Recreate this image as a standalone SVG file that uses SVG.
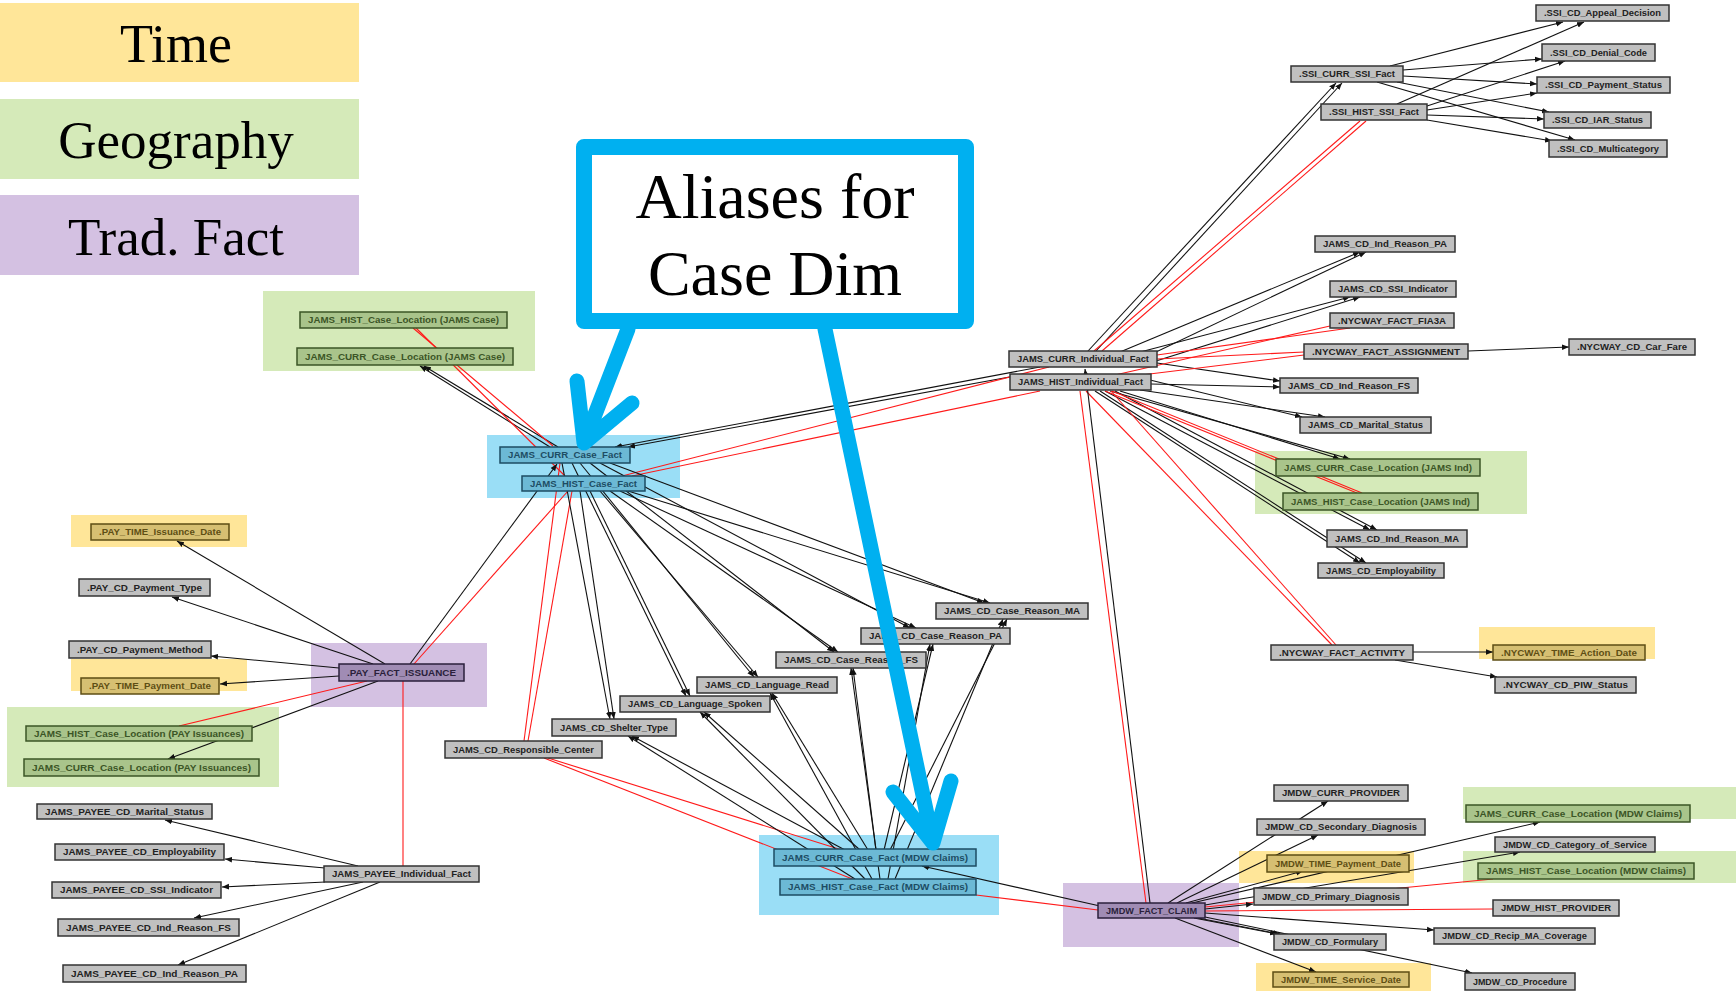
<svg xmlns="http://www.w3.org/2000/svg" width="1736" height="991" viewBox="0 0 1736 991">
<style>
  .legend { font-family: "Liberation Serif", "Times New Roman", serif; fill: #000; text-anchor: middle; }
  .hl-time { fill: #FFE699; }
  .hl-geo { fill: #D5EAB9; }
  .hl-fact { fill: #D4C1E2; }
  .hl-case { fill: #9ADEF6; }
  .nd rect { fill: #C0C0C0; stroke: #333; stroke-width: 1.5; }
  .nd text { font-family: "Liberation Sans", Arial, sans-serif; font-size: 9px; font-weight: bold; fill: #222; text-anchor: middle; }
  .nd.t rect { fill: #D6BF72; stroke: #5E4E14; }
  .nd.t text { fill: #5E4E14; }
  .nd.g rect { fill: #A9C48B; stroke: #3B5526; }
  .nd.g text { fill: #3B5526; }
  .nd.b rect { fill: #6CB9D5; stroke: #1D4C63; }
  .nd.b text { fill: #1D4C63; }
  .nd.p rect { fill: #A08CB4; stroke: #2A1F3B; }
  .nd.p text { fill: #2A1F3B; }
  .e { stroke: #111; stroke-width: 1.1; fill: none; marker-end: url(#ah); }
  .r { stroke: #FF1A1A; stroke-width: 1.1; fill: none; }
  .callout { fill: #FFF; stroke: #00B0F0; stroke-width: 16; stroke-linejoin: round; }
  .callout-text { font-family: "Liberation Serif", "Times New Roman", serif; font-size: 64px; fill: #000; text-anchor: middle; }
  .pointer { stroke: #00B0F0; stroke-width: 15; fill: none; stroke-linecap: round; stroke-linejoin: round; }
</style>
<defs>
  <marker id="ah" viewBox="0 0 10 10" refX="10" refY="5" markerWidth="7" markerHeight="7" orient="auto" markerUnits="userSpaceOnUse">
    <path d="M0,1 L10,5 L0,9 z" fill="#111"/>
  </marker>
</defs>

<rect width="1736" height="991" fill="#FFFFFF"/>

<!-- legend -->
<g id="legend">
  <g id="legend-time"><rect class="hl-time" x="0" y="3" width="359" height="79"/><text class="legend" x="176" y="62" font-size="54">Time</text></g>
  <g id="legend-geography"><rect class="hl-geo" x="0" y="99" width="359" height="80"/><text class="legend" x="176" y="158" font-size="53">Geography</text></g>
  <g id="legend-fact"><rect class="hl-fact" x="0" y="195" width="359" height="80"/><text class="legend" x="176" y="255" font-size="53">Trad. Fact</text></g>
</g>

<!-- category highlights -->
<g id="highlights">
  <rect class="hl-geo" x="263" y="291" width="272" height="80"/>
  <rect class="hl-case" x="487" y="435" width="193" height="63"/>
  <rect class="hl-time" x="71" y="515" width="176" height="32"/>
  <rect class="hl-time" x="71" y="659" width="176" height="32"/>
  <rect class="hl-fact" x="311" y="643" width="176" height="64"/>
  <rect class="hl-geo" x="7" y="707" width="272" height="80"/>
  <rect class="hl-geo" x="1255" y="451" width="272" height="63"/>
  <rect class="hl-time" x="1479" y="627" width="176" height="32"/>
  <rect class="hl-case" x="759" y="835" width="240" height="80"/>
  <rect class="hl-fact" x="1063" y="883" width="176" height="64"/>
  <rect class="hl-time" x="1239" y="851" width="175" height="32"/>
  <rect class="hl-geo" x="1463" y="787" width="273" height="32"/>
  <rect class="hl-geo" x="1463" y="851" width="273" height="32"/>
  <rect class="hl-time" x="1256" y="963" width="175" height="28"/>
</g>

<!-- connectors -->
<g id="connectors">
  <!-- SSI facts to codes -->
  <line class="e" x1="1390" y1="66" x2="1563" y2="22"/>
  <line class="e" x1="1403" y1="70" x2="1542" y2="59"/>
  <line class="e" x1="1403" y1="76" x2="1537" y2="84"/>
  <line class="e" x1="1397" y1="82" x2="1549" y2="112"/>
  <line class="e" x1="1377" y1="82" x2="1575" y2="140"/>
  <line class="e" x1="1397" y1="104" x2="1584" y2="22"/>
  <line class="e" x1="1427" y1="106" x2="1565" y2="61"/>
  <line class="e" x1="1427" y1="110" x2="1537" y2="93"/>
  <line class="e" x1="1427" y1="115" x2="1544" y2="119"/>
  <line class="e" x1="1427" y1="120" x2="1552" y2="141"/>
  <!-- individual facts to SSI facts -->
  <line class="e" x1="1088" y1="351" x2="1336" y2="83"/>
  <line class="e" x1="1096" y1="351" x2="1342" y2="83"/>
  <line class="r" x1="1094" y1="351" x2="1360" y2="121"/>
  <line class="r" x1="1102" y1="351" x2="1366" y2="121"/>
  <!-- individual facts to codes -->
  <line class="e" x1="1120" y1="352" x2="1360" y2="252"/>
  <line class="e" x1="1135" y1="362" x2="1366" y2="252"/>
  <line class="e" x1="1125" y1="356" x2="1350" y2="297"/>
  <line class="e" x1="1140" y1="366" x2="1360" y2="297"/>
  <line class="e" x1="1157" y1="363" x2="1280" y2="381"/>
  <line class="e" x1="1151" y1="384" x2="1280" y2="387"/>
  <line class="e" x1="1150" y1="380" x2="1302" y2="417"/>
  <line class="e" x1="1140" y1="390" x2="1325" y2="417"/>
  <line class="e" x1="1120" y1="391" x2="1340" y2="459"/>
  <line class="e" x1="1110" y1="391" x2="1350" y2="459"/>
  <line class="e" x1="1105" y1="391" x2="1370" y2="530"/>
  <line class="e" x1="1115" y1="391" x2="1377" y2="530"/>
  <line class="e" x1="1095" y1="391" x2="1360" y2="563"/>
  <line class="e" x1="1100" y1="391" x2="1366" y2="563"/>
  <line class="r" x1="1157" y1="355" x2="1350" y2="328"/>
  <line class="r" x1="1115" y1="375" x2="1330" y2="326"/>
  <line class="r" x1="1157" y1="359" x2="1304" y2="352"/>
  <line class="r" x1="1117" y1="378" x2="1304" y2="355"/>
  <line class="r" x1="1105" y1="391" x2="1357" y2="493"/>
  <line class="r" x1="1112" y1="391" x2="1362" y2="493"/>
  <line class="r" x1="1086" y1="391" x2="1332" y2="645"/>
  <line class="r" x1="1111" y1="391" x2="1336" y2="645"/>
  <!-- claim fact to individual facts -->
  <line class="e" x1="1150" y1="903" x2="1085" y2="369"/>
  <line class="r" x1="1146" y1="903" x2="1080" y2="391"/>
  <!-- individual facts to case facts -->
  <line class="e" x1="1040" y1="367" x2="615" y2="447"/>
  <line class="e" x1="1015" y1="376" x2="628" y2="447"/>
  <line class="r" x1="1049" y1="367" x2="622" y2="476"/>
  <line class="r" x1="1040" y1="391" x2="632" y2="476"/>
  <!-- NYCWAY facts -->
  <line class="e" x1="1468" y1="351" x2="1569" y2="347"/>
  <line class="e" x1="1413" y1="652" x2="1493" y2="652"/>
  <line class="e" x1="1395" y1="660" x2="1497" y2="677"/>
  <!-- case facts to case locations -->
  <line class="e" x1="550" y1="447" x2="420" y2="366"/>
  <line class="e" x1="558" y1="447" x2="424" y2="366"/>
  <line class="r" x1="413" y1="328" x2="553" y2="446"/>
  <line class="r" x1="416" y1="328" x2="565" y2="476"/>
  <!-- issuance fact to case facts -->
  <line class="e" x1="410" y1="664" x2="557" y2="464"/>
  <line class="r" x1="414" y1="664" x2="568" y2="491"/>
  <!-- responsible center -->
  <line class="r" x1="524" y1="741" x2="560" y2="463"/>
  <line class="r" x1="528" y1="741" x2="572" y2="491"/>
  <line class="r" x1="548" y1="758" x2="842" y2="850"/>
  <line class="r" x1="544" y1="758" x2="855" y2="880"/>
  <!-- case facts to case codes -->
  <line class="e" x1="610" y1="463" x2="984" y2="603"/>
  <line class="e" x1="628" y1="491" x2="990" y2="603"/>
  <line class="e" x1="600" y1="463" x2="910" y2="628"/>
  <line class="e" x1="620" y1="491" x2="916" y2="628"/>
  <line class="e" x1="590" y1="463" x2="834" y2="652"/>
  <line class="e" x1="610" y1="491" x2="838" y2="652"/>
  <line class="e" x1="580" y1="463" x2="754" y2="677"/>
  <line class="e" x1="600" y1="491" x2="758" y2="677"/>
  <line class="e" x1="572" y1="463" x2="686" y2="696"/>
  <line class="e" x1="590" y1="491" x2="690" y2="696"/>
  <line class="e" x1="562" y1="463" x2="610" y2="719"/>
  <line class="e" x1="580" y1="491" x2="614" y2="719"/>
  <!-- claim case facts to case codes -->
  <line class="e" x1="845" y1="850" x2="632" y2="736"/>
  <line class="e" x1="855" y1="879" x2="628" y2="736"/>
  <line class="e" x1="860" y1="850" x2="704" y2="712"/>
  <line class="e" x1="865" y1="879" x2="700" y2="712"/>
  <line class="e" x1="868" y1="850" x2="772" y2="693"/>
  <line class="e" x1="872" y1="879" x2="770" y2="693"/>
  <line class="e" x1="876" y1="850" x2="853" y2="668"/>
  <line class="e" x1="880" y1="879" x2="851" y2="668"/>
  <line class="e" x1="884" y1="850" x2="933" y2="644"/>
  <line class="e" x1="888" y1="879" x2="930" y2="644"/>
  <line class="e" x1="890" y1="850" x2="1007" y2="619"/>
  <line class="e" x1="895" y1="879" x2="1003" y2="619"/>
  <!-- claim fact -->
  <line class="e" x1="1100" y1="906" x2="922" y2="866"/>
  <line class="r" x1="1098" y1="910" x2="976" y2="895"/>
  <line class="e" x1="1168" y1="903" x2="1328" y2="801"/>
  <line class="e" x1="1177" y1="903" x2="1318" y2="835"/>
  <line class="e" x1="1186" y1="903" x2="1303" y2="871"/>
  <line class="e" x1="1192" y1="903" x2="1540" y2="822"/>
  <line class="e" x1="1205" y1="905" x2="1520" y2="852"/>
  <line class="r" x1="1205" y1="907" x2="1493" y2="879"/>
  <line class="e" x1="1205" y1="909" x2="1253" y2="904"/>
  <line class="r" x1="1205" y1="911" x2="1493" y2="909"/>
  <line class="e" x1="1205" y1="913" x2="1434" y2="930"/>
  <line class="e" x1="1198" y1="918" x2="1280" y2="934"/>
  <line class="e" x1="1194" y1="918" x2="1277" y2="934"/>
  <line class="e" x1="1205" y1="917" x2="1472" y2="973"/>
  <line class="e" x1="1175" y1="918" x2="1316" y2="972"/>
  <!-- issuance fact -->
  <line class="e" x1="385" y1="664" x2="177" y2="541"/>
  <line class="e" x1="373" y1="664" x2="172" y2="597"/>
  <line class="e" x1="339" y1="668" x2="211" y2="656"/>
  <line class="e" x1="339" y1="676" x2="220" y2="684"/>
  <line class="e" x1="378" y1="681" x2="168" y2="759"/>
  <line class="r" x1="367" y1="681" x2="179" y2="726"/>
  <line class="r" x1="403" y1="681" x2="403" y2="866"/>
  <!-- payee fact -->
  <line class="e" x1="358" y1="866" x2="165" y2="820"/>
  <line class="e" x1="325" y1="868" x2="225" y2="859"/>
  <line class="e" x1="325" y1="882" x2="222" y2="887"/>
  <line class="e" x1="363" y1="882" x2="194" y2="918"/>
  <line class="e" x1="380" y1="882" x2="178" y2="965"/>
</g>

<!-- nodes -->
<g id="nodes">
  <g id="ssi-cd-appeal-decision" class="nd"><rect x="1536" y="5" width="133" height="16"/><text x="1602.5" y="16.3" textLength="117" lengthAdjust="spacingAndGlyphs">.SSI_CD_Appeal_Decision</text></g>
  <g id="ssi-cd-denial-code" class="nd"><rect x="1542" y="44" width="113" height="17"/><text x="1598.5" y="55.8" textLength="97" lengthAdjust="spacingAndGlyphs">.SSI_CD_Denial_Code</text></g>
  <g id="ssi-cd-payment-status" class="nd"><rect x="1537" y="77" width="133" height="16"/><text x="1603.5" y="88.3" textLength="117" lengthAdjust="spacingAndGlyphs">.SSI_CD_Payment_Status</text></g>
  <g id="ssi-cd-iar-status" class="nd"><rect x="1544" y="112" width="107" height="16"/><text x="1597.5" y="123.3" textLength="91" lengthAdjust="spacingAndGlyphs">.SSI_CD_IAR_Status</text></g>
  <g id="ssi-cd-multicategory" class="nd"><rect x="1549" y="140" width="118" height="17"/><text x="1608" y="151.8" textLength="102" lengthAdjust="spacingAndGlyphs">.SSI_CD_Multicategory</text></g>
  <g id="ssi-curr-ssi-fact" class="nd"><rect x="1291" y="66" width="112" height="16"/><text x="1347" y="77.3" textLength="96" lengthAdjust="spacingAndGlyphs">.SSI_CURR_SSI_Fact</text></g>
  <g id="ssi-hist-ssi-fact" class="nd"><rect x="1321" y="104" width="106" height="16"/><text x="1374" y="115.3" textLength="90" lengthAdjust="spacingAndGlyphs">.SSI_HIST_SSI_Fact</text></g>

  <g id="jams-cd-ind-reason-pa" class="nd"><rect x="1315" y="236" width="140" height="16"/><text x="1385" y="247.3" textLength="124" lengthAdjust="spacingAndGlyphs">JAMS_CD_Ind_Reason_PA</text></g>
  <g id="jams-cd-ssi-indicator" class="nd"><rect x="1330" y="281" width="126" height="16"/><text x="1393" y="292.3" textLength="110" lengthAdjust="spacingAndGlyphs">JAMS_CD_SSI_Indicator</text></g>
  <g id="nycway-fact-fia3a" class="nd"><rect x="1330" y="313" width="124" height="15"/><text x="1392" y="323.8" textLength="108" lengthAdjust="spacingAndGlyphs">.NYCWAY_FACT_FIA3A</text></g>
  <g id="nycway-fact-assignment" class="nd"><rect x="1304" y="344" width="164" height="15"/><text x="1386" y="354.8" textLength="148" lengthAdjust="spacingAndGlyphs">.NYCWAY_FACT_ASSIGNMENT</text></g>
  <g id="nycway-cd-car-fare" class="nd"><rect x="1569" y="339" width="126" height="16"/><text x="1632" y="350.3" textLength="110" lengthAdjust="spacingAndGlyphs">.NYCWAY_CD_Car_Fare</text></g>
  <g id="jams-cd-ind-reason-fs" class="nd"><rect x="1280" y="378" width="138" height="15"/><text x="1349" y="388.8" textLength="122" lengthAdjust="spacingAndGlyphs">JAMS_CD_Ind_Reason_FS</text></g>
  <g id="jams-cd-marital-status" class="nd"><rect x="1300" y="417" width="131" height="16"/><text x="1365.5" y="428.3" textLength="115" lengthAdjust="spacingAndGlyphs">JAMS_CD_Marital_Status</text></g>
  <g id="jams-curr-individual-fact" class="nd"><rect x="1009" y="351" width="148" height="16"/><text x="1083" y="362.3" textLength="132" lengthAdjust="spacingAndGlyphs">JAMS_CURR_Individual_Fact</text></g>
  <g id="jams-hist-individual-fact" class="nd"><rect x="1010" y="374" width="141" height="16"/><text x="1080.5" y="385.3" textLength="125" lengthAdjust="spacingAndGlyphs">JAMS_HIST_Individual_Fact</text></g>
  <g id="jams-curr-case-location-ind" class="nd g"><rect x="1276" y="459" width="204" height="17"/><text x="1378" y="470.8" textLength="188" lengthAdjust="spacingAndGlyphs">JAMS_CURR_Case_Location (JAMS Ind)</text></g>
  <g id="jams-hist-case-location-ind" class="nd g"><rect x="1283" y="493" width="195" height="17"/><text x="1380.5" y="504.8" textLength="179" lengthAdjust="spacingAndGlyphs">JAMS_HIST_Case_Location (JAMS Ind)</text></g>
  <g id="jams-cd-ind-reason-ma" class="nd"><rect x="1327" y="530" width="140" height="17"/><text x="1397" y="541.8" textLength="124" lengthAdjust="spacingAndGlyphs">JAMS_CD_Ind_Reason_MA</text></g>
  <g id="jams-cd-employability" class="nd"><rect x="1318" y="563" width="126" height="15"/><text x="1381" y="573.8" textLength="110" lengthAdjust="spacingAndGlyphs">JAMS_CD_Employability</text></g>
  <g id="nycway-fact-activity" class="nd"><rect x="1271" y="645" width="142" height="15"/><text x="1342" y="655.8" textLength="126" lengthAdjust="spacingAndGlyphs">.NYCWAY_FACT_ACTIVITY</text></g>
  <g id="nycway-time-action-date" class="nd t"><rect x="1493" y="645" width="152" height="15"/><text x="1569" y="655.8" textLength="136" lengthAdjust="spacingAndGlyphs">.NYCWAY_TIME_Action_Date</text></g>
  <g id="nycway-cd-piw-status" class="nd"><rect x="1495" y="677" width="141" height="16"/><text x="1565.5" y="688.3" textLength="125" lengthAdjust="spacingAndGlyphs">.NYCWAY_CD_PIW_Status</text></g>

  <g id="mdw-curr-provider" class="nd"><rect x="1274" y="785" width="134" height="16"/><text x="1341" y="796.3" textLength="118" lengthAdjust="spacingAndGlyphs">JMDW_CURR_PROVIDER</text></g>
  <g id="mdw-cd-secondary-diagnosis" class="nd"><rect x="1257" y="819" width="168" height="16"/><text x="1341" y="830.3" textLength="152" lengthAdjust="spacingAndGlyphs">JMDW_CD_Secondary_Diagnosis</text></g>
  <g id="jams-curr-case-location-mdw" class="nd g"><rect x="1466" y="805" width="224" height="17"/><text x="1578" y="816.8" textLength="208" lengthAdjust="spacingAndGlyphs">JAMS_CURR_Case_Location (MDW Claims)</text></g>
  <g id="mdw-cd-category-of-service" class="nd"><rect x="1495" y="837" width="160" height="15"/><text x="1575" y="847.8" textLength="144" lengthAdjust="spacingAndGlyphs">JMDW_CD_Category_of_Service</text></g>
  <g id="jams-hist-case-location-mdw" class="nd g"><rect x="1478" y="863" width="216" height="16"/><text x="1586" y="874.3" textLength="200" lengthAdjust="spacingAndGlyphs">JAMS_HIST_Case_Location (MDW Claims)</text></g>
  <g id="mdw-time-payment-date" class="nd t"><rect x="1267" y="855" width="142" height="17"/><text x="1338" y="866.8" textLength="126" lengthAdjust="spacingAndGlyphs">JMDW_TIME_Payment_Date</text></g>
  <g id="mdw-fact-claim" class="nd p"><rect x="1098" y="903" width="107" height="15"/><text x="1151.5" y="913.8" textLength="91" lengthAdjust="spacingAndGlyphs">JMDW_FACT_CLAIM</text></g>
  <g id="mdw-cd-primary-diagnosis" class="nd"><rect x="1254" y="888" width="154" height="17"/><text x="1331" y="899.8" textLength="138" lengthAdjust="spacingAndGlyphs">JMDW_CD_Primary_Diagnosis</text></g>
  <g id="mdw-hist-provider" class="nd"><rect x="1493" y="900" width="126" height="16"/><text x="1556" y="911.3" textLength="110" lengthAdjust="spacingAndGlyphs">JMDW_HIST_PROVIDER</text></g>
  <g id="mdw-cd-formulary" class="nd"><rect x="1274" y="934" width="112" height="16"/><text x="1330" y="945.3" textLength="96" lengthAdjust="spacingAndGlyphs">JMDW_CD_Formulary</text></g>
  <g id="mdw-cd-recip-ma-coverage" class="nd"><rect x="1434" y="928" width="161" height="16"/><text x="1514.5" y="939.3" textLength="145" lengthAdjust="spacingAndGlyphs">JMDW_CD_Recip_MA_Coverage</text></g>
  <g id="mdw-time-service-date" class="nd t"><rect x="1273" y="972" width="136" height="15"/><text x="1341" y="982.8" textLength="120" lengthAdjust="spacingAndGlyphs">JMDW_TIME_Service_Date</text></g>
  <g id="mdw-cd-procedure" class="nd"><rect x="1465" y="973" width="110" height="17"/><text x="1520" y="984.8" textLength="94" lengthAdjust="spacingAndGlyphs">JMDW_CD_Procedure</text></g>

  <g id="jams-hist-case-location-case" class="nd g"><rect x="300" y="312" width="207" height="16"/><text x="403.5" y="323.3" textLength="191" lengthAdjust="spacingAndGlyphs">JAMS_HIST_Case_Location (JAMS Case)</text></g>
  <g id="jams-curr-case-location-case" class="nd g"><rect x="297" y="348" width="216" height="17"/><text x="405" y="359.8" textLength="200" lengthAdjust="spacingAndGlyphs">JAMS_CURR_Case_Location (JAMS Case)</text></g>
  <g id="jams-curr-case-fact" class="nd b"><rect x="500" y="447" width="130" height="16"/><text x="565" y="458.3" textLength="114" lengthAdjust="spacingAndGlyphs">JAMS_CURR_Case_Fact</text></g>
  <g id="jams-hist-case-fact" class="nd b"><rect x="522" y="476" width="123" height="15"/><text x="583.5" y="486.8" textLength="107" lengthAdjust="spacingAndGlyphs">JAMS_HIST_Case_Fact</text></g>

  <g id="pay-time-issuance-date" class="nd t"><rect x="91" y="524" width="138" height="16"/><text x="160" y="535.3" textLength="122" lengthAdjust="spacingAndGlyphs">.PAY_TIME_Issuance_Date</text></g>
  <g id="pay-cd-payment-type" class="nd"><rect x="79" y="579" width="131" height="17"/><text x="144.5" y="590.8" textLength="115" lengthAdjust="spacingAndGlyphs">.PAY_CD_Payment_Type</text></g>
  <g id="pay-cd-payment-method" class="nd"><rect x="69" y="641" width="142" height="17"/><text x="140" y="652.8" textLength="126" lengthAdjust="spacingAndGlyphs">.PAY_CD_Payment_Method</text></g>
  <g id="pay-time-payment-date" class="nd t"><rect x="81" y="678" width="138" height="16"/><text x="150" y="689.3" textLength="122" lengthAdjust="spacingAndGlyphs">.PAY_TIME_Payment_Date</text></g>
  <g id="pay-fact-issuance" class="nd p"><rect x="339" y="664" width="125" height="17"/><text x="401.5" y="675.8" textLength="109" lengthAdjust="spacingAndGlyphs">.PAY_FACT_ISSUANCE</text></g>
  <g id="jams-hist-case-location-pay" class="nd g"><rect x="26" y="726" width="226" height="15"/><text x="139" y="736.8" textLength="210" lengthAdjust="spacingAndGlyphs">JAMS_HIST_Case_Location (PAY Issuances)</text></g>
  <g id="jams-curr-case-location-pay" class="nd g"><rect x="24" y="759" width="235" height="17"/><text x="141.5" y="770.8" textLength="219" lengthAdjust="spacingAndGlyphs">JAMS_CURR_Case_Location (PAY Issuances)</text></g>
  <g id="jams-cd-responsible-center" class="nd"><rect x="445" y="741" width="157" height="17"/><text x="523.5" y="752.8" textLength="141" lengthAdjust="spacingAndGlyphs">JAMS_CD_Responsible_Center</text></g>

  <g id="payee-cd-marital-status" class="nd"><rect x="37" y="804" width="175" height="15"/><text x="124.5" y="814.8" textLength="159" lengthAdjust="spacingAndGlyphs">JAMS_PAYEE_CD_Marital_Status</text></g>
  <g id="payee-cd-employability" class="nd"><rect x="55" y="844" width="169" height="16"/><text x="139.5" y="855.3" textLength="153" lengthAdjust="spacingAndGlyphs">JAMS_PAYEE_CD_Employability</text></g>
  <g id="payee-cd-ssi-indicator" class="nd"><rect x="52" y="882" width="169" height="16"/><text x="136.5" y="893.3" textLength="153" lengthAdjust="spacingAndGlyphs">JAMS_PAYEE_CD_SSI_Indicator</text></g>
  <g id="payee-cd-ind-reason-fs" class="nd"><rect x="58" y="919" width="181" height="17"/><text x="148.5" y="930.8" textLength="165" lengthAdjust="spacingAndGlyphs">JAMS_PAYEE_CD_Ind_Reason_FS</text></g>
  <g id="payee-cd-ind-reason-pa" class="nd"><rect x="63" y="965" width="183" height="17"/><text x="154.5" y="976.8" textLength="167" lengthAdjust="spacingAndGlyphs">JAMS_PAYEE_CD_Ind_Reason_PA</text></g>
  <g id="payee-individual-fact" class="nd"><rect x="324" y="866" width="155" height="16"/><text x="401.5" y="877.3" textLength="139" lengthAdjust="spacingAndGlyphs">JAMS_PAYEE_Individual_Fact</text></g>

  <g id="jams-cd-case-reason-ma" class="nd"><rect x="936" y="603" width="152" height="16"/><text x="1012" y="614.3" textLength="136" lengthAdjust="spacingAndGlyphs">JAMS_CD_Case_Reason_MA</text></g>
  <g id="jams-cd-case-reason-pa" class="nd"><rect x="861" y="628" width="149" height="16"/><text x="935.5" y="639.3" textLength="133" lengthAdjust="spacingAndGlyphs">JAMS_CD_Case_Reason_PA</text></g>
  <g id="jams-cd-case-reason-fs" class="nd"><rect x="776" y="652" width="150" height="16"/><text x="851" y="663.3" textLength="134" lengthAdjust="spacingAndGlyphs">JAMS_CD_Case_Reason_FS</text></g>
  <g id="jams-cd-language-read" class="nd"><rect x="697" y="677" width="140" height="16"/><text x="767" y="688.3" textLength="124" lengthAdjust="spacingAndGlyphs">JAMS_CD_Language_Read</text></g>
  <g id="jams-cd-language-spoken" class="nd"><rect x="620" y="696" width="150" height="16"/><text x="695" y="707.3" textLength="134" lengthAdjust="spacingAndGlyphs">JAMS_CD_Language_Spoken</text></g>
  <g id="jams-cd-shelter-type" class="nd"><rect x="552" y="719" width="124" height="17"/><text x="614" y="730.8" textLength="108" lengthAdjust="spacingAndGlyphs">JAMS_CD_Shelter_Type</text></g>
  <g id="jams-curr-case-fact-mdw" class="nd b"><rect x="774" y="849" width="202" height="17"/><text x="875" y="860.8" textLength="186" lengthAdjust="spacingAndGlyphs">JAMS_CURR_Case_Fact (MDW Claims)</text></g>
  <g id="jams-hist-case-fact-mdw" class="nd b"><rect x="780" y="879" width="196" height="16"/><text x="878" y="890.3" textLength="180" lengthAdjust="spacingAndGlyphs">JAMS_HIST_Case_Fact (MDW Claims)</text></g>
</g>

<!-- callout with pointers -->
<g id="callout">
  <path class="pointer" d="M628,329 L584,443 M577,381 L584,443 L632,403"/>
  <path class="pointer" d="M825,329 L933,843 M893,792 L933,843 L951,781"/>
  <rect class="callout" x="584" y="147" width="382" height="174"/>
  <text class="callout-text" x="775" y="218">Aliases for</text>
  <text class="callout-text" x="775" y="295">Case Dim</text>
</g>
</svg>
